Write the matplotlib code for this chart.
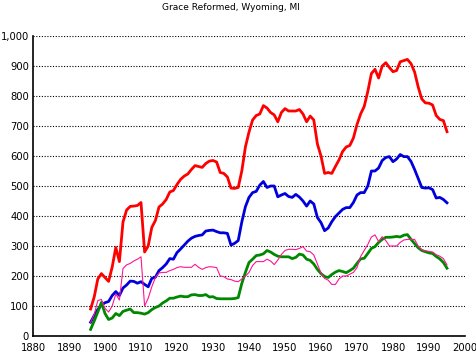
import numpy as np
import matplotlib.pyplot as plt

# Dados (um valor por ano, 1896-1995)
anos = list(range(1896, 1996))

vermelho = [90, 130, 190, 208, 195, 182, 230, 295, 248, 380,
            420, 432, 433, 435, 445, 280, 300, 362, 385, 430,
            440, 455, 480, 485, 505, 522, 533, 540, 555, 568,
            565, 562, 575, 583, 585, 580, 545, 542, 530, 493,
            492, 495, 550, 630, 680, 720, 735, 740, 768, 760,
            745, 737, 714, 745, 758, 750, 750, 750, 755, 740,
            714, 733, 720, 640, 600, 542, 545, 542, 565, 587,
            615, 630, 635, 660, 705, 740, 765, 815, 875, 889,
            860, 900, 911, 895, 881, 885, 914, 918, 922, 908,
            880, 830, 790, 777, 776, 770, 735, 722, 718, 681]

azul = [46, 68, 88, 103, 111, 115, 135, 148, 135, 160,
        170, 183, 182, 176, 181, 172, 164, 192, 196, 218,
        228, 240, 258, 256, 278, 290, 303, 316, 326, 332,
        335, 337, 350, 352, 353, 348, 344, 344, 342, 303,
        309, 318, 380, 431, 462, 478, 482, 503, 515, 495,
        500, 500, 464, 470, 475, 465, 462, 472, 463, 450,
        433, 450, 440, 395, 378, 351, 360, 381, 398, 410,
        422, 428, 428, 445, 470, 478, 478, 500, 550, 550,
        560, 585, 595, 598, 581, 590, 605, 598, 598, 582,
        555, 525, 495, 493, 494, 488, 460, 462, 455, 444]

verde = [22, 50, 80, 112, 75, 55, 60, 75, 68, 82,
         86, 90, 78, 78, 76, 73, 78, 88, 95, 100,
         110, 117, 126, 126, 130, 133, 131, 131, 137, 138,
         135, 135, 138, 130, 131, 125, 124, 124, 124, 124,
         125, 128, 175, 212, 245, 256, 268, 270, 274, 285,
         280, 272, 266, 264, 264, 264, 258, 262, 273, 270,
         256, 252, 240, 222, 208, 198, 195, 205, 213, 218,
         215, 211, 218, 226, 242, 257, 259, 275, 292, 298,
         312, 322, 329, 329, 330, 332, 330, 336, 338, 322,
         308, 294, 285, 281, 277, 275, 265, 257, 245, 226]

rosa = [45, 72, 118, 122, 92, 80, 100, 140, 120, 225,
        237, 242, 250, 256, 264, 100, 126, 164, 195, 210,
        212, 212, 218, 222, 228, 231, 229, 229, 229, 239,
        229, 222, 228, 231, 230, 228, 200, 198, 190, 188,
        183, 181, 190, 200, 212, 235, 248, 248, 248, 256,
        250, 238, 253, 272, 285, 289, 289, 288, 292, 298,
        283, 281, 270, 240, 210, 192, 186, 172, 172, 190,
        200, 200, 206, 212, 228, 265, 285, 305, 330, 337,
        315, 331, 318, 300, 300, 300, 312, 320, 322, 322,
        322, 300, 287, 284, 282, 280, 271, 266, 258, 237]

xticks = list(range(1880, 2001, 10))
yticks = list(range(0, 1001, 100))
ylabels = ["0", "100", "200", "300", "400", "500", "600", "700", "800", "900", "1,000"]

fig = plt.figure(figsize=(4.77, 3.52), dpi=100)
ax = fig.add_axes([33 / 477, 16 / 352, 432 / 477, 300 / 352])

ax.plot(anos, vermelho, color='#ff0000', lw=2.0)
ax.plot(anos, azul, color='#0000dd', lw=2.0)
ax.plot(anos, verde, color='#008800', lw=2.0)
ax.plot(anos, rosa, color='#ff1493', lw=0.8)

ax.set_xlim(1880, 2000)
ax.set_ylim(0, 1000)
ax.set_xticks(xticks)
ax.set_yticks(yticks)
ax.set_yticklabels(ylabels)
ax.tick_params(length=0, labelsize=7.2)
ax.tick_params(axis='y', pad=3)
ax.tick_params(axis='x', pad=5)

for v in yticks[1:]:
    ax.axhline(v, color='black', lw=0.8, linestyle=(0, (1, 1.5)), zorder=0)

for lado in ['top', 'right']:
    ax.spines[lado].set_visible(False)
for lado in ['left', 'bottom']:
    ax.spines[lado].set_linewidth(1.2)

fig.text(231 / 477, 1 - 7 / 352, "Grace Reformed, Wyoming, MI",
         ha='center', va='center', fontsize=6.5)

fig.savefig("out.png", dpi=100)
